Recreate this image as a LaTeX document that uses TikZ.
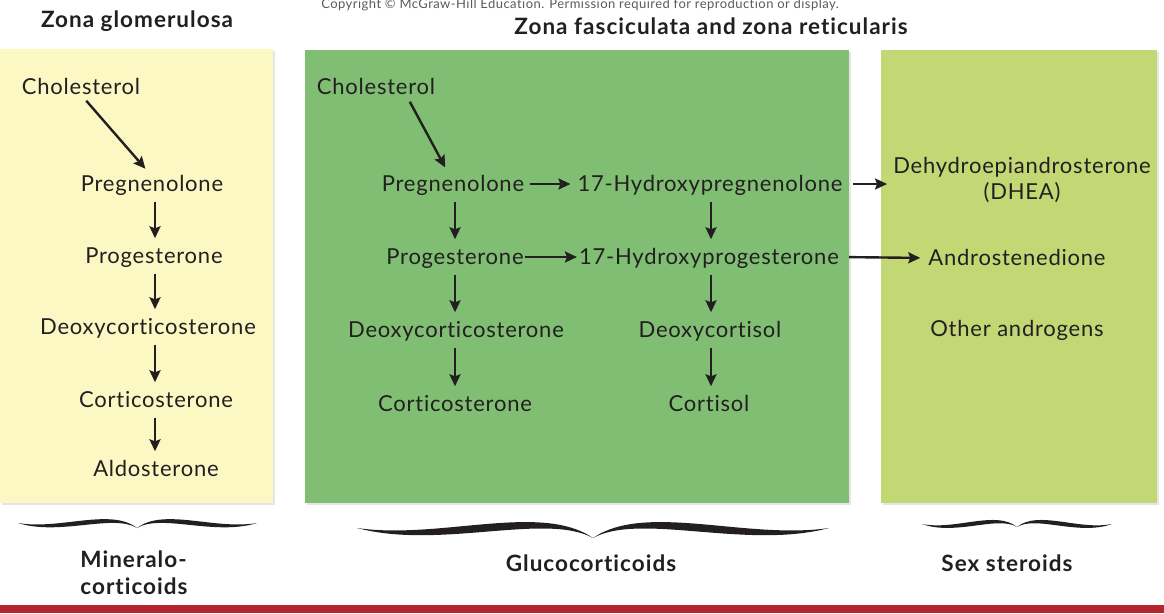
\documentclass[tikz,border=0pt]{standalone}
\usepackage{fontspec}
\setmainfont{Lato}[LetterSpace=3.5,Ligatures={NoCommon,NoDiscretionary}]
\usetikzlibrary{arrows.meta,shadows,calc}
\definecolor{ybox}{RGB}{252,248,196}
\definecolor{gbox}{RGB}{128,190,115}
\definecolor{lbox}{RGB}{196,215,117}
\definecolor{txtc}{RGB}{35,31,32}
\definecolor{redbar}{RGB}{180,38,43}
\definecolor{copyc}{RGB}{90,90,90}
\newcommand\halfbrace[5]{%
  \pgfmathsetmacro\hbL{#3-#1}%
  \fill[txtc] (#1,#2) .. controls ({#1+0.35*\hbL},{#2+12*#5}) and ({#1+0.78*\hbL},{#2-26*#5}) .. (#3,#4)
    .. controls ({#1+0.8*\hbL},{#2-16*#5}) and ({#1+0.35*\hbL},{#2+22*#5}) .. (#1,#2) -- cycle;}
\begin{document}
\begin{tikzpicture}[x=1pt,y=-1pt,
  txt/.style={font=\fontsize{22}{26}\selectfont, text=txtc, inner sep=0pt, text height=15pt, text depth=0pt},
  ttl/.style={font=\fontsize{22.5}{27}\selectfont\bfseries\addfontfeatures{LetterSpace=4.5}, text=txtc, inner sep=0pt},
  arr/.style={draw=txtc, line width=2.4pt, -{Stealth[length=12pt,width=11pt,inset=2pt]}},
  varr/.style={arr, shorten <=10pt, shorten >=10pt},
  zone/.style={drop shadow={shadow xshift=2pt,shadow yshift=-2pt,opacity=0.2}}]
\useasboundingbox (0,0) rectangle (1164,613);
\fill[white] (0,0) rectangle (1164,613);
% zone boxes
\fill[ybox, zone] (0,49) rectangle (273,503);
\fill[gbox, zone] (305,50) rectangle (849,503);
\fill[lbox, zone] (881,50) rectangle (1157,503);
\fill[redbar] (0,605) rectangle (1164,613);
% header texts
\node[font=\fontsize{13}{15}\selectfont, text=copyc, inner sep=0pt] (copy) at (580,5) {Copyright © McGraw-Hill Education. Permission required for reproduction or display.};
\node[ttl] (t1) at (137,21) {Zona glomerulosa};
\node[ttl] (t2) at (711,26) {Zona fasciculata and zona reticularis};
% left column
\coordinate (lx) at (155,0);
\node[txt] (lchol) at (81,87) {Cholesterol};
\node[txt] (lpreg) at (152,184) {Pregnenolone};
\node[txt] (lprog) at (154,256) {Progesterone};
\node[txt] (ldoc) at (148,327) {Deoxycorticosterone};
\node[txt] (lcort) at (156,400) {Corticosterone};
\node[txt] (lald) at (156,469) {Aldosterone};
\draw[arr, shorten <=8pt, shorten >=10pt] (lchol.south) -- (lpreg.north);
\draw[varr] (lpreg.south -| lx) -- (lprog.north -| lx);
\draw[varr] (lprog.south -| lx) -- (ldoc.north -| lx);
\draw[varr] (ldoc.south -| lx) -- (lcort.north -| lx);
\draw[varr] (lcort.south -| lx) -- (lald.north -| lx);
% middle
\coordinate (mx1) at (455,0);
\coordinate (mx2) at (711,0);
\node[txt] (mchol) at (376,87) {Cholesterol};
\node[txt] (mpreg) at (453,184) {Pregnenolone};
\node[txt] (mhpreg) at (710,184) {17-Hydroxypregnenolone};
\node[txt] (mprog) at (455,257) {Progesterone};
\node[txt] (mhprog) at (709,257) {17-Hydroxyprogesterone};
\node[txt] (mdoc) at (456,330) {Deoxycorticosterone};
\node[txt] (mdcl) at (710,330) {Deoxycortisol};
\node[txt] (mcort) at (455,404) {Corticosterone};
\node[txt] (mcol) at (709,404) {Cortisol};
\draw[arr, shorten <=8pt, shorten >=10pt] ([xshift=30pt]mchol.south) -- ([xshift=-3pt]mpreg.north);
\draw[varr] (mpreg.south -| mx1) -- (mprog.north -| mx1);
\draw[varr] (mprog.south -| mx1) -- (mdoc.north -| mx1);
\draw[varr] (mdoc.south -| mx1) -- (mcort.north -| mx1);
\draw[varr] (mhpreg.south -| mx2) -- (mhprog.north -| mx2);
\draw[varr] (mhprog.south -| mx2) -- (mdcl.north -| mx2);
\draw[varr] (mdcl.south -| mx2) -- (mcol.north -| mx2);
\draw[arr, shorten <=6pt, shorten >=7pt] (mpreg.east) -- (mhpreg.west);
\draw[arr, shorten <=1pt, shorten >=2pt] (mprog.east) -- (mhprog.west);
% right
\node[font=\fontsize{22}{26}\selectfont, text=txtc, inner sep=0pt, align=center] (dhea) at (1022,180) {Dehydroepiandrosterone\\(DHEA)};
\node[txt] (andro) at (1017,258) {Androstenedione};
\node[txt] (oth) at (1017,329) {Other androgens};
\draw[arr, shorten <=10pt, shorten >=6pt] (mhpreg.east) -- (dhea.west |- mhpreg.east);
\draw[arr, shorten <=10pt, shorten >=8pt] (mhprog.east) -- (andro.west);
% braces
\halfbrace{18}{523}{137}{528}{0.6}
\halfbrace{257}{523}{137}{528}{0.6}
\halfbrace{357}{528}{593}{538}{1}
\halfbrace{829}{528}{593}{538}{1}
\halfbrace{922}{524}{1017}{527}{0.55}
\halfbrace{1112}{524}{1017}{527}{0.55}
% bottom labels
\node[ttl, align=left] (mineral) at (134,573) {Mineralo-\\corticoids};
\node[ttl] (gluco) at (591,563) {Glucocorticoids};
\node[ttl] (sex) at (1007,563) {Sex steroids};
\end{tikzpicture}
\end{document}
